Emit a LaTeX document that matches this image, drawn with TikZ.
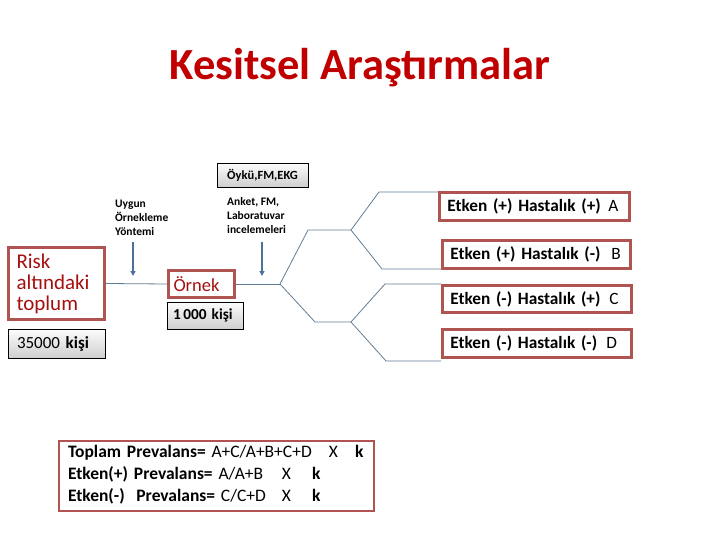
\documentclass[tikz,border=0pt]{standalone}
\usepackage{fontspec}
\setmainfont{Carlito}
\usetikzlibrary{arrows.meta}
\definecolor{titlered}{RGB}{192,0,0}
\definecolor{darkred}{RGB}{165,15,15}
\definecolor{boxred}{RGB}{176,84,82}
\definecolor{linegray}{RGB}{98,126,150}
\definecolor{arrowblue}{RGB}{76,114,156}
\begin{document}
\begin{tikzpicture}[x=1pt,y=-1pt,
  redbox/.style={draw=boxred, line width=2.6pt, inner xsep=8pt, inner ysep=0pt, align=left},
  graybox/.style={draw=black, line width=0.7pt, top color=gray!2, bottom color=gray!38, inner ysep=0pt},
  conn/.style={draw=linegray, line width=0.8pt},
  arr/.style={draw=arrowblue, line width=1.6pt, -{Triangle[length=5pt,width=5pt]}},
  note/.style={font=\fontsize{11.5}{14}\selectfont\bfseries, align=left, inner sep=0pt, anchor=north west},
  etk/.style={redbox, font=\fontsize{17.3}{20}\selectfont}]

\useasboundingbox (0,0) rectangle (720,540);

% title
\node[font=\fontsize{44.5}{52}\selectfont\bfseries, text=titlered, anchor=base, inner sep=0pt] (title) at (360,80) {Kesitsel Araştırmalar};

% left part
\node[redbox, text width=80pt, minimum height=72pt, font=\fontsize{21}{21}\selectfont, text=darkred] (risk) at (56.5,283.5) {Risk\\altındaki\\toplum};
\node[graybox, inner xsep=9pt, text width=79pt, minimum height=29pt, align=left, font=\fontsize{17}{19}\selectfont] (n35) at (56.5,343.5) {35000 \textbf{kişi}};

\node[redbox, inner xsep=5pt, text width=56pt, minimum height=27.4pt, font=\fontsize{18.5}{20}\selectfont, text=darkred] (ornek) at (201.5,284) {Örnek};
\node[graybox, inner xsep=6pt, text width=64pt, minimum height=27pt, align=left, font=\fontsize{15.3}{17}\selectfont\bfseries] (n1000) at (205,315.5) {1\,000 kişi};

\node[graybox, inner xsep=2pt, minimum width=91pt, minimum height=24pt, font=\fontsize{12.5}{14}\selectfont\bfseries] (oyku) at (262.5,175) {Öykü,FM,EKG};

\node[note] (uygun) at (115,200) {Uygun\\Örnekleme\\Yöntemi};
\node[note] (anket) at (227,197) {Anket, FM,\\Laboratuvar\\incelemeleri};

% arrows
\coordinate (ua0) at (133,242); \coordinate (ua1) at (133,276);
\coordinate (aa0) at (262,242); \coordinate (aa1) at (262,276);
\draw[arr] (ua0) -- (ua1);
\draw[arr] (aa0) -- (aa1);

% outcome boxes
\node[etk, text width=174.4pt, minimum height=28.4pt] (A) at (534.5,206.5) {\makebox[161pt][l]{\textbf{Etken (+) Hastalık (+)}}A};
\node[etk, text width=172.4pt, minimum height=28.4pt] (B) at (536.5,254.5) {\makebox[161pt][l]{\textbf{Etken (+) Hastalık (-)}}B};
\node[etk, text width=173.4pt, minimum height=27.4pt] (C) at (537,299) {\makebox[159pt][l]{\textbf{Etken (-) Hastalık (+)}}C};
\node[etk, text width=173.4pt, minimum height=28.4pt] (D) at (537,343.5) {\makebox[156pt][l]{\textbf{Etken (-) Hastalık (-)}}D};

% tree
\coordinate (j0) at (280,284);
\coordinate (u1) at (308,230); \coordinate (j1) at (351,230);
\coordinate (u2) at (379,192); \coordinate (d2) at (382,269);
\coordinate (d1) at (315,322); \coordinate (j2) at (351,322);
\coordinate (u3) at (385,284); \coordinate (d3) at (386,361);

\draw[conn] (risk.east) -- (ornek.west);
\draw[conn] (ornek.east) -- (j0);
\draw[conn] (j0) -- (u1) -- (j1);
\draw[conn] (j0) -- (d1) -- (j2);
\draw[conn] (j1) -- (u2) -- (u2 -| A.west);
\draw[conn] (j1) -- (d2) -- (d2 -| B.west);
\draw[conn] (j2) -- (u3) -- (u3 -| C.west);
\draw[conn] (j2) -- (d3) -- (d3 -| D.west);

% formula box
\node[redbox, line width=2pt, inner xsep=9pt, text width=297pt, minimum height=70pt, font=\fontsize{17.5}{22}\selectfont] (form) at (216.5,476) {%
\makebox[261pt][l]{\textbf{Toplam Prevalans=} A+C/A+B+C+D}\makebox[26pt][l]{X}\textbf{k}\\
\makebox[214pt][l]{\textbf{Etken(+) Prevalans=} A/A+B}\makebox[30pt][l]{X}\textbf{k}\\
\makebox[214pt][l]{\textbf{Etken(-)\ \ Prevalans=} C/C+D}\makebox[30pt][l]{X}\textbf{k}\rule[-6pt]{0pt}{0pt}};
\end{tikzpicture}
\end{document}
